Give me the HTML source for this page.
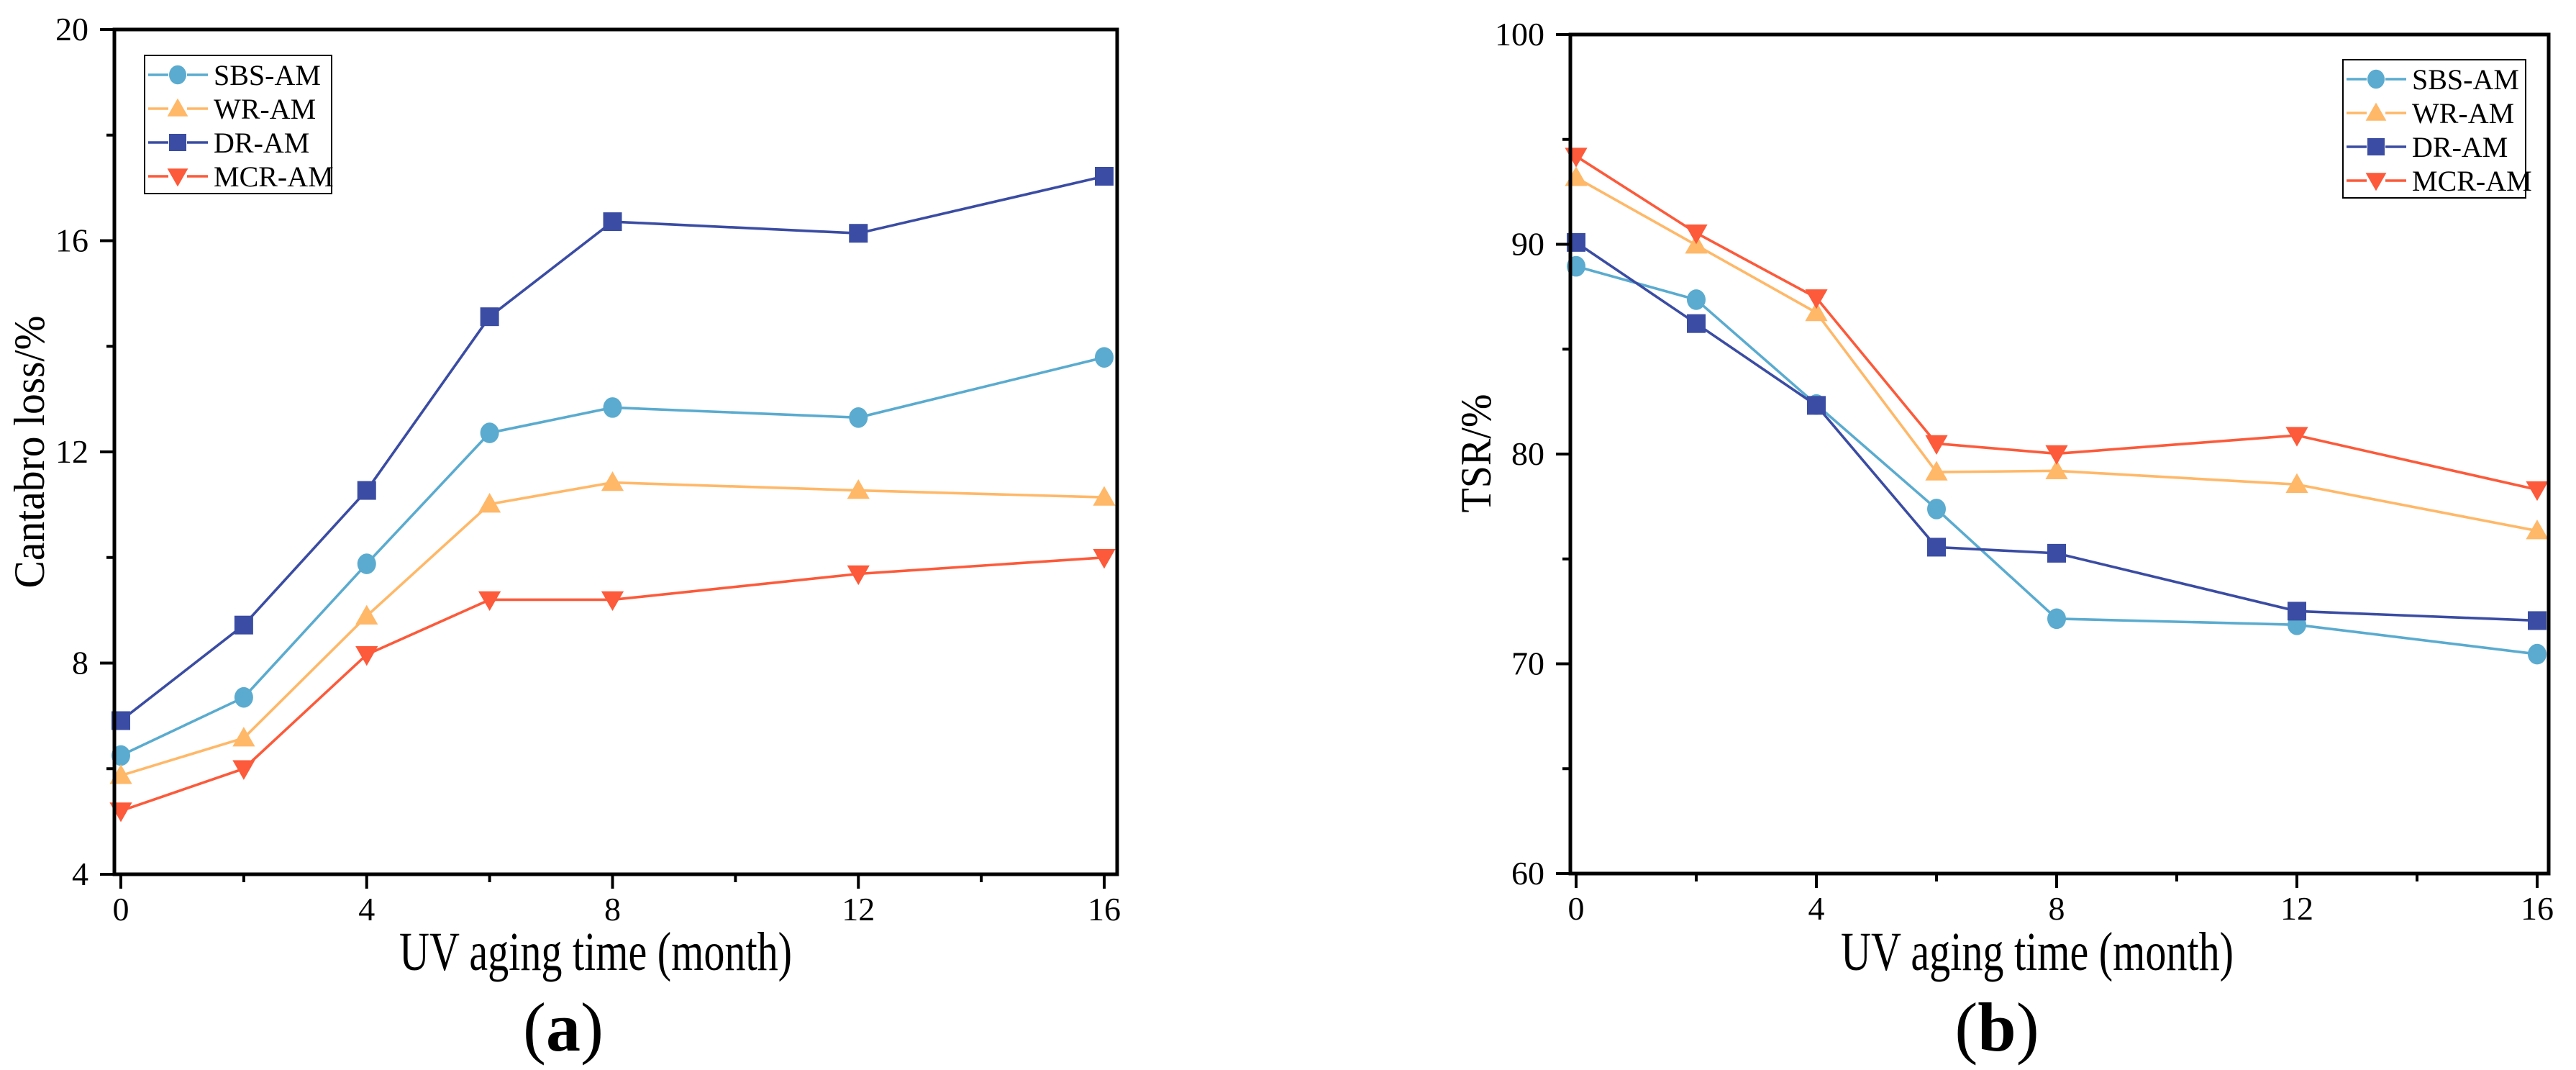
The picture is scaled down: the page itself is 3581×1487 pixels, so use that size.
<!DOCTYPE html>
<html><head><meta charset="utf-8"><style>
html,body{margin:0;padding:0;background:#fff;}
svg{display:block;font-family:"Liberation Serif",serif;}
</style></head><body>
<svg id="fig" width="3581" height="1487" viewBox="0 0 3581 1487"></svg>
<script>
const xValues = [0, 2, 4, 6, 8, 12, 16];
const seriesNames = ["SBS-AM", "WR-AM", "DR-AM", "MCR-AM"];
const cantSBS = [6.25, 7.35, 9.88, 12.36, 12.84, 12.65, 13.79];
const cantWR = [5.87, 6.58, 8.89, 11.01, 11.42, 11.27, 11.14];
const cantDR = [6.91, 8.72, 11.27, 14.56, 16.36, 16.14, 17.22];
const cantMCR = [5.2, 6.0, 8.16, 9.2, 9.2, 9.69, 10.0];
const tsrSBS = [88.95, 87.36, 82.36, 77.38, 72.15, 71.86, 70.46];
const tsrWR = [93.18, 89.96, 86.74, 79.14, 79.2, 78.55, 76.34];
const tsrDR = [90.09, 86.22, 82.32, 75.56, 75.27, 72.51, 72.06];
const tsrMCR = [94.2, 90.54, 87.45, 80.5, 80.02, 80.89, 78.3];
const xTicks = [0, 4, 8, 12, 16];
const xMinor = [2, 6, 10, 14];
const cantTicks = [4, 8, 12, 16, 20];
const cantMinor = [6, 10, 14, 18];
const tsrTicks = [60, 70, 80, 90, 100];
const tsrMinor = [65, 75, 85, 95];

const NS = "http://www.w3.org/2000/svg";
const svg = document.getElementById("fig");
const colors = ["#5aabcf", "#ffb868", "#3a4ca3", "#fc5a3a"];
const shapes = ["circle", "up", "square", "down"];
function mk(tag, attrs, parent) {
  const e = document.createElementNS(NS, tag);
  for (const k in attrs) e.setAttribute(k, attrs[k]);
  (parent || svg).appendChild(e);
  return e;
}
function marker(g, shape, cx, cy, color, s) {
  let m;
  if (shape === "circle") m = mk("ellipse", {cx: cx, cy: cy, rx: s * 0.5, ry: s * 0.55, fill: color}, g);
  else if (shape === "square") m = mk("rect", {x: cx - s / 2, y: cy - s / 2, width: s, height: s, fill: color}, g);
  else if (shape === "up") m = mk("polygon", {points: `${cx},${cy - s * 0.6} ${cx - s * 0.6},${cy + s * 0.45} ${cx + s * 0.6},${cy + s * 0.45}`, fill: color}, g);
  else m = mk("polygon", {points: `${cx},${cy + s * 0.6} ${cx - s * 0.6},${cy - s * 0.45} ${cx + s * 0.6},${cy - s * 0.45}`, fill: color}, g);
  return m;
}
function panel(cfg) {
  const g = mk("g", {});
  
  
  const X = v => cfg.x0 + (v - 0) / 16 * (cfg.x16 - cfg.x0);
  const Y = v => cfg.bottom - (v - cfg.ymin) / (cfg.ymax - cfg.ymin) * (cfg.bottom - cfg.top);
  cfg.series.forEach((vals, i) => {
    const sg = mk("g", {}, g);
    
    
    const pts = vals.map((v, j) => X(xValues[j]) + "," + Y(v)).join(" ");
    const pl = mk("polyline", {points: pts, fill: "none", stroke: colors[i], "stroke-width": 3.6}, sg);
    
    
    vals.forEach((v, j) => {
      const m = marker(sg, shapes[i], X(xValues[j]), Y(v), colors[i], 26);
      
      
    });
  });
  const fr = mk("rect", {x: cfg.left, y: cfg.top, width: cfg.right - cfg.left, height: cfg.bottom - cfg.top, fill: "none", stroke: "#000", "stroke-width": 5}, g);
  
  
  xTicks.forEach(t => {
    mk("line", {x1: X(t), x2: X(t), y1: cfg.bottom, y2: cfg.bottom + 20, stroke: "#000", "stroke-width": 4}, g);
    const tx = mk("text", {x: X(t), y: cfg.bottom + 64, "font-size": 46, "text-anchor": "middle", fill: "#000"}, g);
    tx.textContent = t;
    
    
  });
  xMinor.forEach(t => mk("line", {x1: X(t), x2: X(t), y1: cfg.bottom, y2: cfg.bottom + 11, stroke: "#000", "stroke-width": 4}, g));
  cfg.ticks.forEach(t => {
    mk("line", {x1: cfg.left - 20, x2: cfg.left, y1: Y(t), y2: Y(t), stroke: "#000", "stroke-width": 4}, g);
    const ty = mk("text", {x: cfg.left - 36, y: Y(t) + 15, "font-size": 46, "text-anchor": "end", fill: "#000"}, g);
    ty.textContent = t;
    
    
  });
  cfg.minor.forEach(t => mk("line", {x1: cfg.left - 11, x2: cfg.left, y1: Y(t), y2: Y(t), stroke: "#000", "stroke-width": 4}, g));
  const xt = mk("text", {x: cfg.xtx, y: 1348, "font-size": 76, "text-anchor": "middle", textLength: 546, lengthAdjust: "spacingAndGlyphs"}, g);
  xt.textContent = "UV aging time (month)";
  
  
  const yt = mk("text", {x: 0, y: 0, "font-size": 60, "text-anchor": "middle", textLength: cfg.ytLen, lengthAdjust: "spacingAndGlyphs", transform: `translate(${cfg.ytx},${cfg.yty}) rotate(-90)`}, g);
  yt.textContent = cfg.ytitle;
  
  
  const lab = mk("text", {x: cfg.labx, y: 1460, "font-size": 96, "text-anchor": "middle"}, g);
  lab.innerHTML = '(<tspan font-weight="bold">' + cfg.label + '</tspan>)';
  
  
  const lg = mk("g", {}, g);
  
  
  mk("rect", {x: cfg.lgx, y: cfg.lgy, width: cfg.lgw, height: cfg.lgh, fill: "#fff", stroke: "#000", "stroke-width": 2}, lg);
  seriesNames.forEach((n, i) => {
    const cy = cfg.lgy + 27 + i * 47;
    const e = mk("g", {}, lg);
    
    
    mk("line", {x1: cfg.lgx + 5, x2: cfg.lgx + 88, y1: cy, y2: cy, stroke: colors[i], "stroke-width": 3.6}, e);
    mk("rect", {x: cfg.lgx + 33, y: cy - 14, width: 26, height: 28, fill: "#fff"}, e);
    marker(e, shapes[i], cfg.lgx + 46, cy, colors[i], 24);
    const t = mk("text", {x: cfg.lgx + 96, y: cy + 14, "font-size": 40}, e);
    t.textContent = n;
  });
}
panel({name: "chart-a-cantabro", left: 159, right: 1553, top: 41, bottom: 1215, x0: 168, x16: 1535,
  ymin: 4, ymax: 20, ticks: cantTicks, minor: cantMinor,
  series: [cantSBS, cantWR, cantDR, cantMCR],
  xtx: 828, ytitle: "Cantabro loss/%", ytx: 61, yty: 628, ytLen: 379, label: "a", labx: 783,
  lgx: 201, lgy: 77, lgw: 260, lgh: 192});
panel({name: "chart-b-tsr", left: 2183, right: 3543, top: 48, bottom: 1214, x0: 2191, x16: 3527,
  ymin: 60, ymax: 100, ticks: tsrTicks, minor: tsrMinor,
  series: [tsrSBS, tsrWR, tsrDR, tsrMCR],
  xtx: 2832, ytitle: "TSR/%", ytx: 2072, yty: 630, ytLen: 165, label: "b", labx: 2776,
  lgx: 3257, lgy: 83, lgw: 254, lgh: 192});
</script>
</body></html>
